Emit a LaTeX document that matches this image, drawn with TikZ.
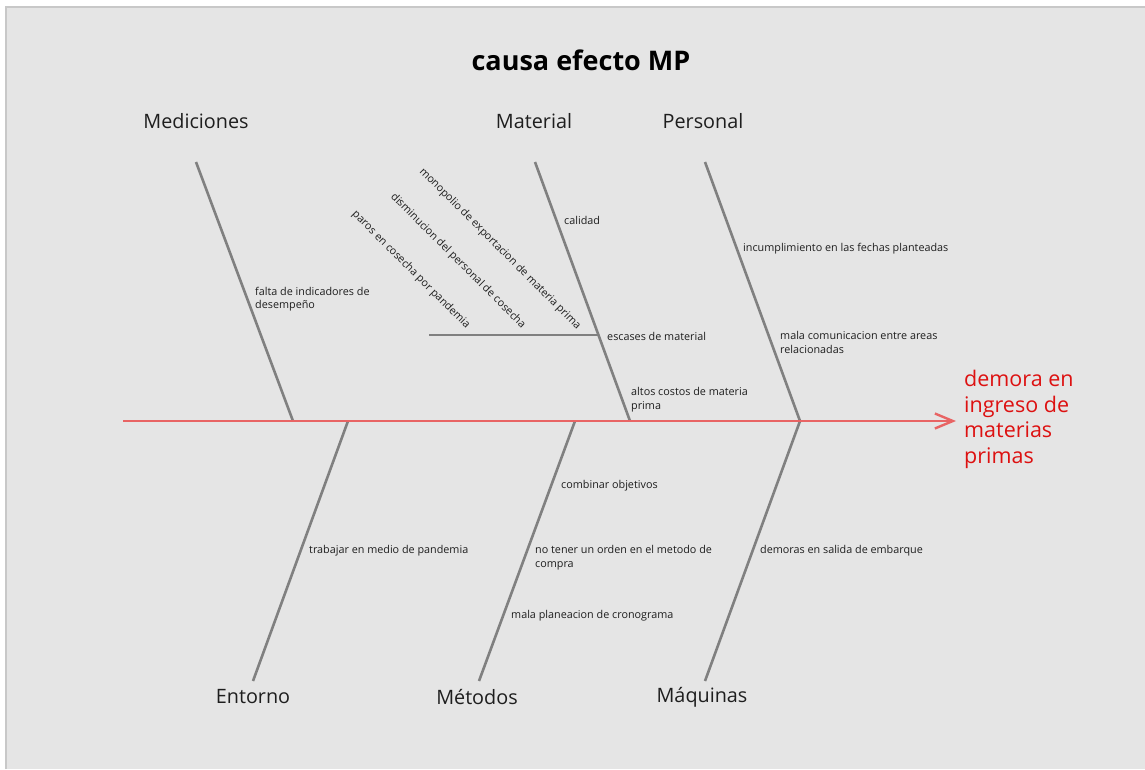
\documentclass[tikz,border=0pt]{standalone}
\usepackage{fontspec}
\setmainfont{Open Sans}
\usetikzlibrary{arrows.meta}
\definecolor{bg}{HTML}{E5E5E5}
\definecolor{frame}{HTML}{C8C8C8}
\definecolor{bone}{HTML}{808080}
\definecolor{spine}{HTML}{E86464}
\definecolor{effect}{HTML}{DD1111}
\definecolor{txt}{HTML}{1E1E1E}
\tikzset{
  bonestyle/.style={draw=bone, line width=2.6pt},
  cat/.style={font=\fontsize{19.8}{23}\selectfont, text=txt, inner sep=0pt},
  cause/.style={font=\fontsize{10.8}{13.5}\selectfont, text=txt, inner sep=0pt, align=left, anchor=west},
  diag/.style={font=\fontsize{10.8}{13}\selectfont, text=txt, inner sep=0pt, rotate=-45},
}
\begin{document}
\begin{tikzpicture}[x=1pt,y=-1pt]
\useasboundingbox (0,0) rectangle (1145,769);
\fill[white] (0,0) rectangle (1145,769);
\fill[bg] (6,7) rectangle (1145,769);
\draw[frame, line width=1.2pt] (6,769) -- (6,7) -- (1145,7);

\node[font=\bfseries\fontsize{27}{32}\selectfont, text=black, inner sep=0pt] (title) at (581,60) {causa efecto MP};

% coordinates
\coordinate (tail) at (123,421);
\coordinate (head) at (956,421);
\coordinate (medTop) at (196,162);  \coordinate (medBot) at (293,421);
\coordinate (matTop) at (535,162);  \coordinate (matBot) at (630,421);
\coordinate (perTop) at (705,162);  \coordinate (perBot) at (800,421);
\coordinate (entTop) at (348,421);  \coordinate (entBot) at (253,681);
\coordinate (metTop) at (575,421);  \coordinate (metBot) at (479,681);
\coordinate (maqTop) at (800,421);  \coordinate (maqBot) at (705,681);
\coordinate (subL) at (429,335);    \coordinate (subR) at (598,335);

% bones
\draw[bonestyle] (medTop) -- (medBot);
\draw[bonestyle] (matTop) -- (matBot);
\draw[bonestyle] (perTop) -- (perBot);
\draw[bonestyle] (entTop) -- (entBot);
\draw[bonestyle] (metTop) -- (metBot);
\draw[bonestyle] (maqTop) -- (maqBot);
\draw[bonestyle] (subL) -- (subR);

% spine
\draw[spine, line width=2.6pt, -{Straight Barb[length=18pt,width=15pt,line width=2.4pt]}] (tail) -- (head);

% category labels
\node[cat] (med) at (196,121) {Mediciones};
\node[cat] (mat) at (534,121) {Material};
\node[cat] (per) at (703,121) {Personal};
\node[cat] (ent) at (253,697) {Entorno};
\node[cat] (met) at (477,697) {Métodos};
\node[cat] (maq) at (702,697) {Máquinas};

% effect
\node[font=\fontsize{21.5}{25.7}\selectfont, text=effect, inner sep=0pt, align=left, anchor=north west] (effect) at (964,370) {demora en\\ingreso de\\materias\\primas};

% causes
\node[cause] (c1) at (255,299) {falta de indicadores de\\desempeño};
\node[cause] (c2) at (564,220) {calidad};
\node[cause] (c3) at (607,336) {escases de material};
\node[cause] (c4) at (631,399.5) {altos costos de materia\\prima};
\node[cause] (c5) at (743,249) {incumplimiento en las fechas planteadas};
\node[cause] (c6) at (780,342.5) {mala comunicacion entre areas\\relacionadas};
\node[cause] (c7) at (309,551) {trabajar en medio de pandemia};
\node[cause] (c8) at (561,486) {combinar objetivos};
\node[cause] (c9) at (535,557.5) {no tener un orden en el metodo de\\compra};
\node[cause] (c10) at (511,616) {mala planeacion de cronograma};
\node[cause] (c11) at (760,551) {demoras en salida de embarque};

% diagonal sub-causes
\node[diag] (d1) at (500,249) {monopolio de exportacion de materia prima};
\node[diag] (d2) at (458,261) {disminucion del personal de cosecha};
\node[diag] (d3) at (411,270) {paros en cosecha por pandemia};
\end{tikzpicture}
\end{document}
